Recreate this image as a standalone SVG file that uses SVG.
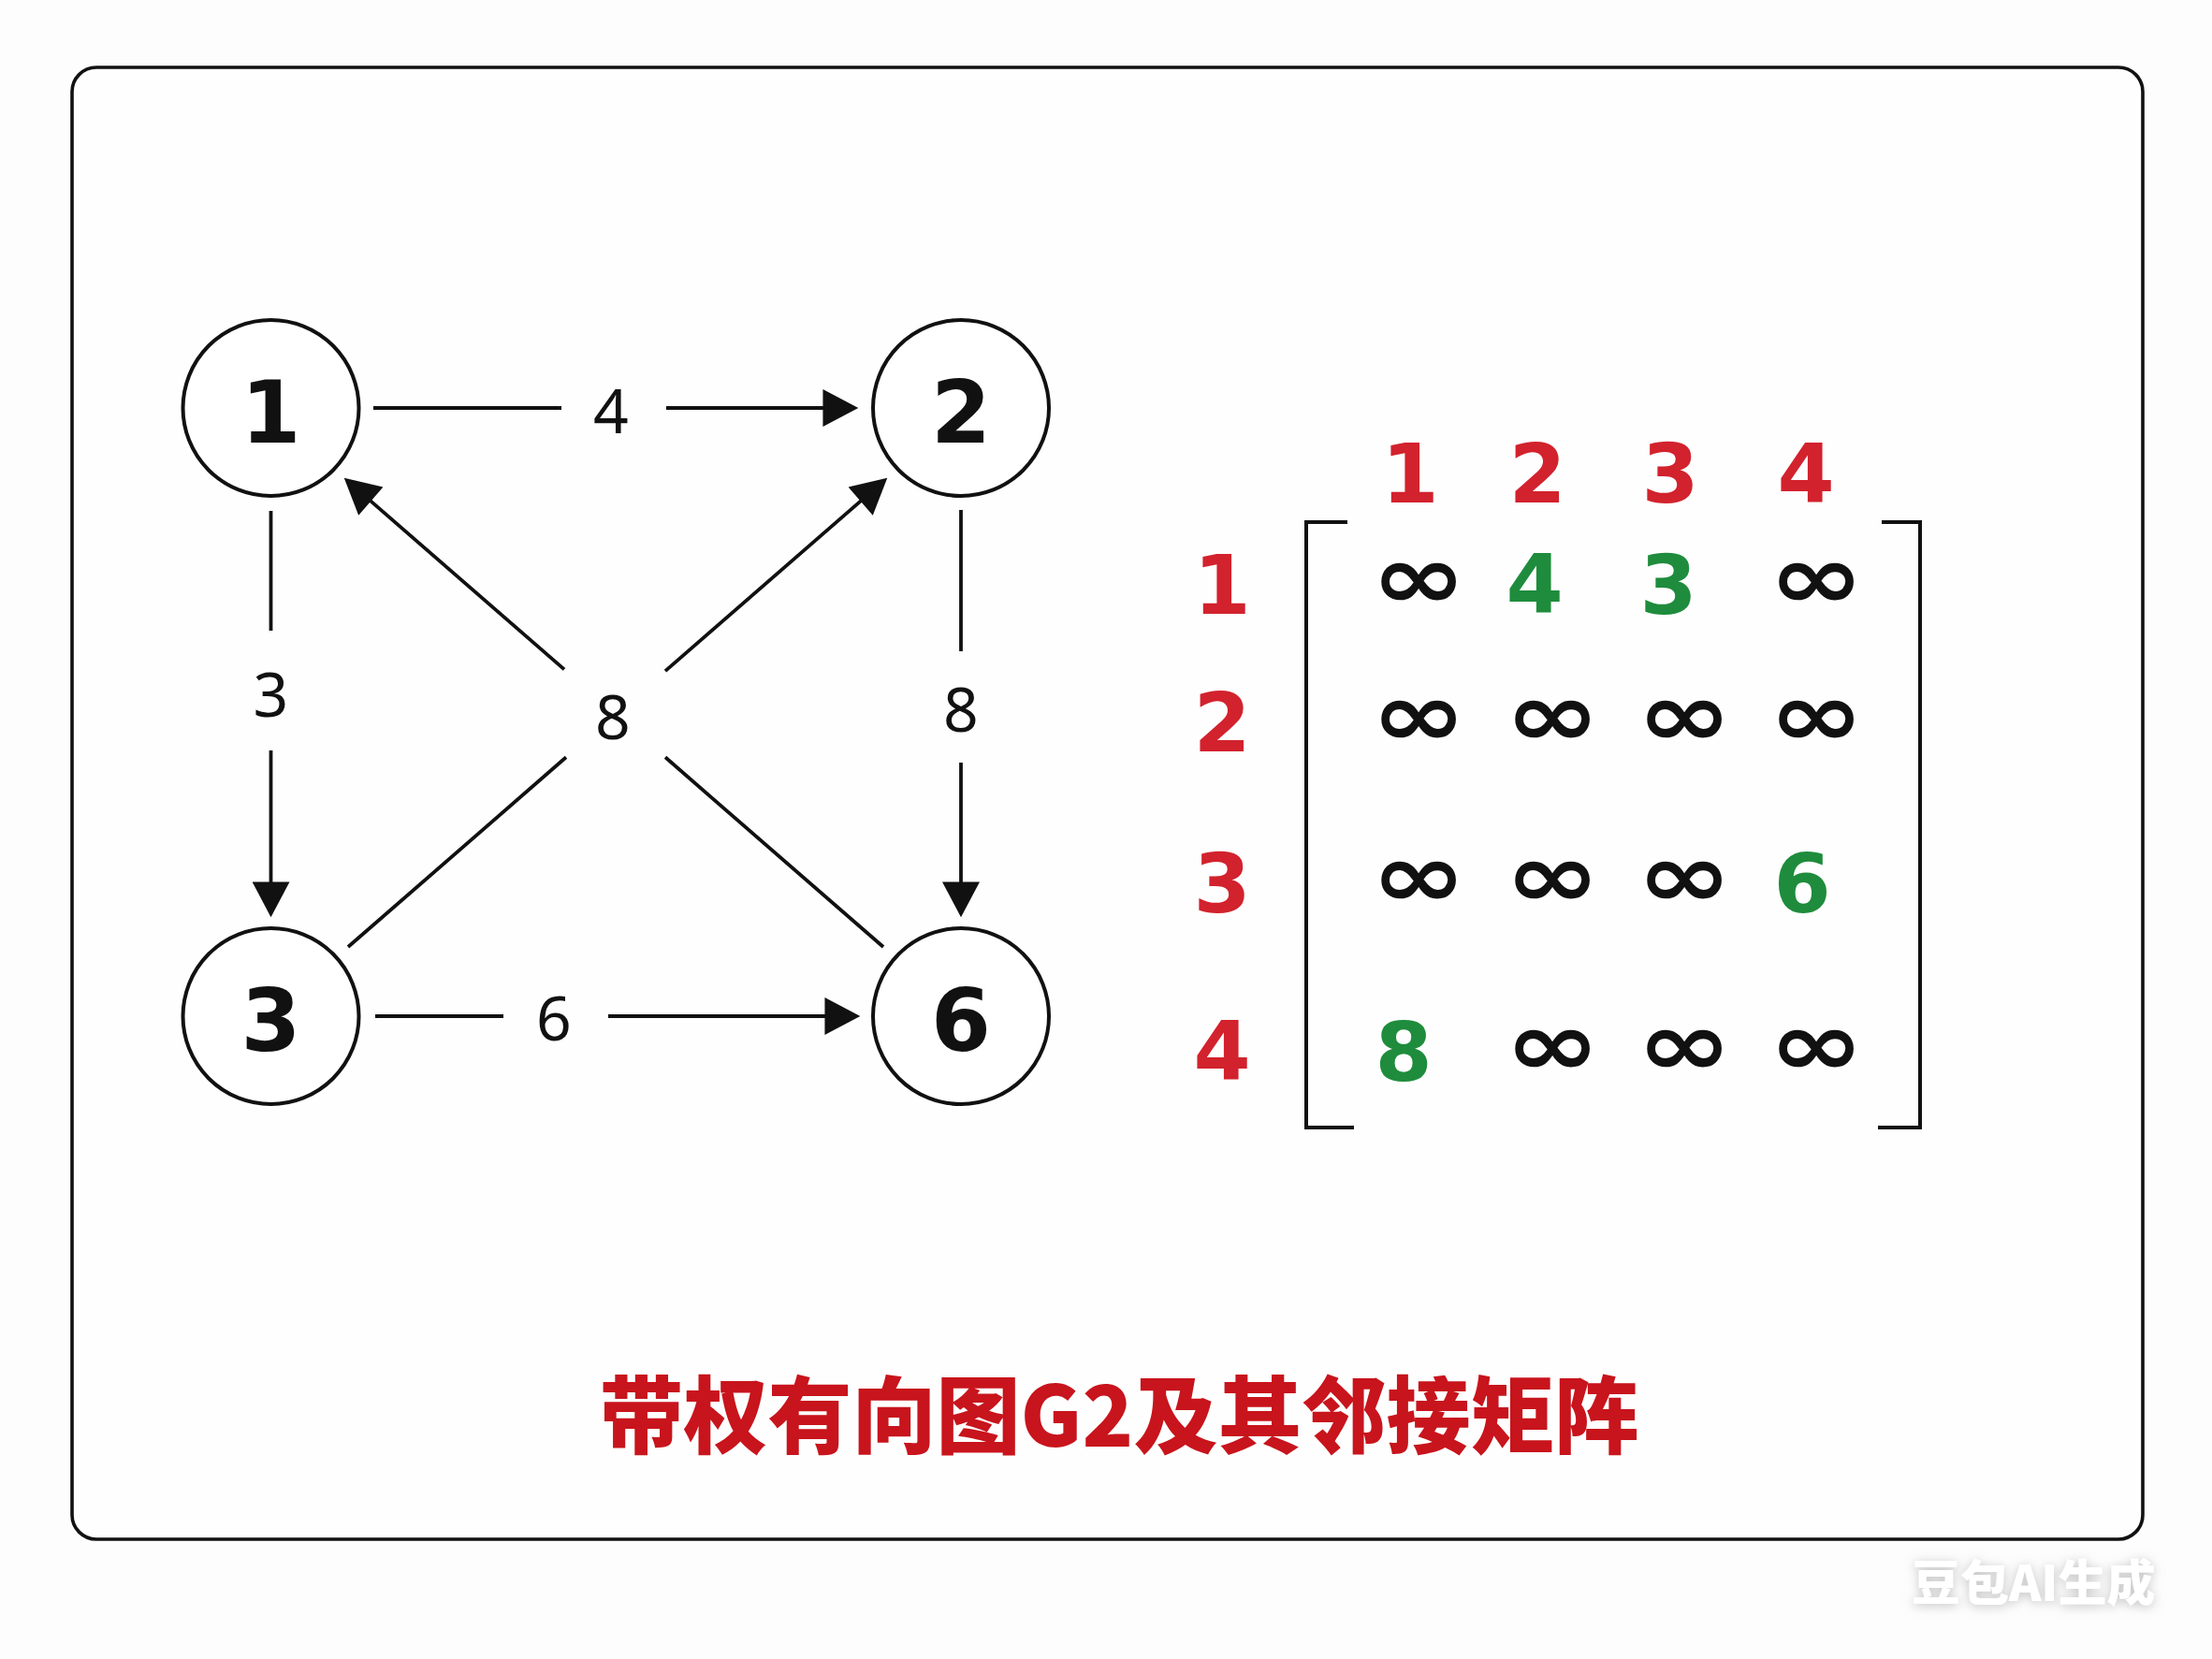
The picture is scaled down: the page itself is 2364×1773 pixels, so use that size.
<svg xmlns="http://www.w3.org/2000/svg" width="2364" height="1773" viewBox="0 0 2364 1773">
<style>
.node circle{fill:#fff;stroke:#111;stroke-width:4}
.nlab{font-family:"DejaVu Sans",sans-serif;font-weight:bold;font-size:92px;fill:#111;text-anchor:middle}
.elab{font-family:"Noto Sans","DejaVu Sans",sans-serif;font-size:66px;fill:#111;text-anchor:middle}
.edge{fill:none;stroke:#111;stroke-width:3.8}
.red{font-family:"DejaVu Sans",sans-serif;font-weight:bold;font-size:88px;fill:#d2222d;text-anchor:middle}
.grn{font-family:"DejaVu Sans",sans-serif;font-weight:bold;font-size:88px;fill:#1e8c3c;text-anchor:middle}
.inf{font-family:"DejaVu Sans",sans-serif;font-weight:bold;font-size:104px;fill:#111;text-anchor:middle}
.brk{fill:none;stroke:#111;stroke-width:4}
</style>
<defs>
<marker id="arr" markerUnits="userSpaceOnUse" markerWidth="40" markerHeight="40" viewBox="0 0 36 38" refX="30" refY="19" orient="auto">
<path d="M0,0 L36,19 L0,38 z" fill="#111"/>
</marker>
<filter id="wm" x="-20%" y="-40%" width="140%" height="180%">
<feDropShadow dx="0" dy="2" stdDeviation="6" flood-color="#9a9a9a" flood-opacity="0.6"/>
</filter>
</defs>
<rect x="0" y="0" width="2364" height="1773" fill="#fdfdfd"/>
<rect x="77" y="72" width="2213" height="1573" rx="26" fill="#fefefe" stroke="#111" stroke-width="3.6"/>

<g id="connectors">
<path class="edge" d="M399 436 H600 M712 436 H911" marker-end="url(#arr)"/>
<path class="edge" d="M289.5 546 V674 M289.5 802 V974" marker-end="url(#arr)"/>
<path class="edge" d="M1027 545 V696 M1027 815 V974" marker-end="url(#arr)"/>
<path class="edge" d="M401 1086 H538 M650 1086 H913" marker-end="url(#arr)"/>
<path class="edge" d="M944 1012 L711 809.3 M603 715.4 L372.5 514.9" marker-end="url(#arr)"/>
<path class="edge" d="M372 1012 L605 809.3 M711 717.1 L943.5 514.9" marker-end="url(#arr)"/>
<text class="elab" x="653" y="463">4</text>
<text class="elab" x="289.5" y="766">3</text>
<text class="elab" x="1027" y="782">8</text>
<text class="elab" x="655" y="790">8</text>
<text class="elab" x="592" y="1112">6</text>
</g>

<g id="node1" class="node"><circle cx="289.5" cy="436" r="94"/><text class="nlab" x="289.5" y="473">1</text></g>
<g id="node2" class="node"><circle cx="1027" cy="436" r="94"/><text class="nlab" x="1027" y="473">2</text></g>
<g id="node3" class="node"><circle cx="289.5" cy="1086" r="94"/><text class="nlab" x="289.5" y="1123">3</text></g>
<g id="node6" class="node"><circle cx="1027" cy="1086" r="94"/><text class="nlab" x="1027" y="1123">6</text></g>

<g id="matrix">
<text class="red" x="1507" y="537">1</text>
<text class="red" x="1643" y="537">2</text>
<text class="red" x="1785" y="537">3</text>
<text class="red" x="1930" y="537">4</text>
<text class="red" x="1306" y="656">1</text>
<text class="red" x="1306" y="803">2</text>
<text class="red" x="1306" y="975">3</text>
<text class="red" x="1306" y="1154">4</text>
<path class="brk" d="M1440 558 H1396 V1205 H1447"/>
<path class="brk" d="M2011 558 H2052 V1205 H2007"/>
<text class="inf" transform="translate(1516 621) scale(1.18 0.92)" x="0" y="32">∞</text>
<text class="grn" x="1640" y="655">4</text>
<text class="grn" x="1783" y="656">3</text>
<text class="inf" transform="translate(1941 621) scale(1.18 0.92)" x="0" y="32">∞</text>
<text class="inf" transform="translate(1516 768) scale(1.18 0.92)" x="0" y="32">∞</text>
<text class="inf" transform="translate(1659 768) scale(1.18 0.92)" x="0" y="32">∞</text>
<text class="inf" transform="translate(1800 768) scale(1.18 0.92)" x="0" y="32">∞</text>
<text class="inf" transform="translate(1941 768) scale(1.18 0.92)" x="0" y="32">∞</text>
<text class="inf" transform="translate(1516 940) scale(1.18 0.92)" x="0" y="32">∞</text>
<text class="inf" transform="translate(1659 940) scale(1.18 0.92)" x="0" y="32">∞</text>
<text class="inf" transform="translate(1800 940) scale(1.18 0.92)" x="0" y="32">∞</text>
<text class="grn" x="1926" y="975">6</text>
<text class="grn" x="1500" y="1155">8</text>
<text class="inf" transform="translate(1659 1120) scale(1.18 0.92)" x="0" y="32">∞</text>
<text class="inf" transform="translate(1800 1120) scale(1.18 0.92)" x="0" y="32">∞</text>
<text class="inf" transform="translate(1941 1120) scale(1.18 0.92)" x="0" y="32">∞</text>
</g>

<text id="title" x="1196" y="1546" font-family="'Noto Sans CJK SC',sans-serif" font-weight="900" font-size="90" fill="#c8141c" text-anchor="middle">带权有向图G2及其邻接矩阵</text>
<text id="watermark" x="2043" y="1711" font-family="'Noto Sans CJK SC',sans-serif" font-weight="900" font-size="52" fill="#ffffff" filter="url(#wm)">豆包AI生成</text>
</svg>
